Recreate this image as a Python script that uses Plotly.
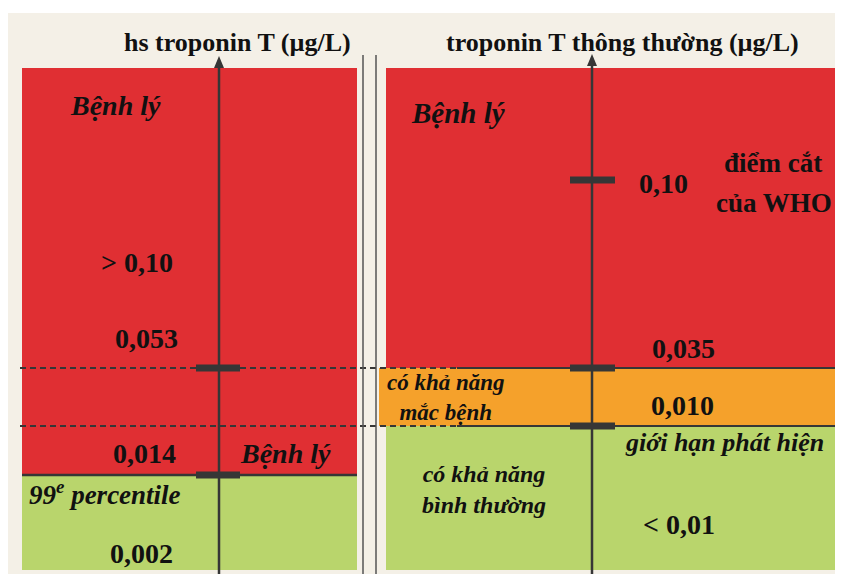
import plotly.graph_objects as go

# schematic layout of the two troponin scales (reference pixel units, y grows downward)
W, H = 843, 574
OFF = 8  # page body margin

RED, ORANGE, GREEN = "#e02f33", "#f5a12b", "#b9d56c"
DARK = "#363636"
CREAM = "#f4f0e7"

# zones: (x0, x1, y0, y1, colour)
left_zones = [(22, 357, 68, 475, RED), (22, 357, 475, 570, GREEN)]
right_zones = [(386, 842, 68, 368, RED), (379, 842, 368, 426, ORANGE), (386, 842, 426, 570, GREEN)]

# tick marks on each axis (y positions)
left_ticks_y = [368, 475]
right_ticks_y = [180, 368, 426]

# threshold values
left_values = [("> 0,10", 137, 262), ("0,053", 146, 338), ("0,014", 144, 453), ("0,002", 141, 553)]
right_values = [("0,10", 663, 183), ("0,035", 683, 348), ("0,010", 682, 405), ("< 0,01", 679, 524)]

# italic notes: (text, x, y, size, anchor)
notes = [
    ("Bệnh lý", 115, 105, 28, "center"),
    ("Bệnh lý", 285, 453, 28, "center"),
    ("99<sup>e</sup> percentile", 27, 493, 27, "left"),
    ("Bệnh lý", 458, 113, 29, "center"),
    ("có khả năng<br>mắc bệnh", 446, 397, 23, "center"),
    ("giới hạn phát hiện", 724, 442, 26, "center"),
    ("có khả năng<br>bình thường", 484, 489, 24, "center"),
]
# upright notes
plain_notes = [("điểm cắt", 773, 163, 27), ("của WHO", 774, 203, 27)]

titles = [("hs troponin T (µg/L)", 237, 42), ("troponin T thông thường (µg/L)", 622, 42)]

FONT = "Liberation Serif, DejaVu Serif, Times New Roman, serif"
NUM_SIZE = 28

fig = go.Figure()
shapes = [dict(type="rect", x0=8, x1=W, y0=13, y1=H, fillcolor=CREAM, line_width=0, layer="below")]

for x0, x1, y0, y1, c in left_zones + right_zones:
    shapes.append(dict(type="rect", x0=x0, x1=x1, y0=y0, y1=y1, fillcolor=c, line_width=0, layer="below"))

# boundary lines
for y in (368, 426):
    shapes.append(dict(type="line", x0=20, x1=457, y0=y, y1=y, line=dict(color=DARK, width=2, dash="6px,4px")))
    shapes.append(dict(type="line", x0=457, x1=842, y0=y, y1=y, line=dict(color=DARK, width=2)))
shapes.append(dict(type="line", x0=22, x1=357, y0=475, y1=475, line=dict(color=DARK, width=2.5)))

# separator double line
for x in (363, 376):
    shapes.append(dict(type="line", x0=x, x1=x, y0=55, y1=H, line=dict(color="#555555", width=1.5)))

# vertical axes with arrow heads
for x, tip in ((219, 56), (592, 54)):
    shapes.append(dict(type="line", x0=x, x1=x, y0=tip + 8, y1=H, line=dict(color=DARK, width=2.5)))
    shapes.append(dict(type="path", path=f"M {x} {tip} L {x - 5} {tip + 12} L {x + 5} {tip + 12} Z",
                       fillcolor=DARK, line_width=0))

# tick bars
for y in left_ticks_y:
    shapes.append(dict(type="rect", x0=196, x1=240, y0=y - 3.5, y1=y + 3.5, fillcolor=DARK, line_width=0))
for y in right_ticks_y:
    shapes.append(dict(type="rect", x0=570, x1=615, y0=y - 3.5, y1=y + 3.5, fillcolor=DARK, line_width=0))


def label(text, x, y, size, anchor="center"):
    return dict(x=x, y=y, text=f"<b>{text}</b>", showarrow=False, xref="x", yref="y",
                xanchor=anchor, yanchor="middle", align="center",
                font=dict(family=FONT, size=size, color="#111111"))


annotations = [label(t, x, y, 26) for t, x, y in titles]
annotations += [label(t, x, y, NUM_SIZE) for t, x, y in left_values + right_values]
annotations += [label(f"<i>{t}</i>", x, y, s, a) for t, x, y, s, a in notes]
annotations += [label(t, x, y, s) for t, x, y, s in plain_notes]

fig.update_layout(
    width=W - OFF, height=H - OFF,
    margin=dict(l=0, r=0, t=0, b=0),
    paper_bgcolor="white", plot_bgcolor="white",
    xaxis=dict(range=[OFF, W], visible=False, fixedrange=True),
    yaxis=dict(range=[H, OFF], visible=False, fixedrange=True),
    shapes=shapes, annotations=annotations, showlegend=False,
)

fig.write_html("out.html")
